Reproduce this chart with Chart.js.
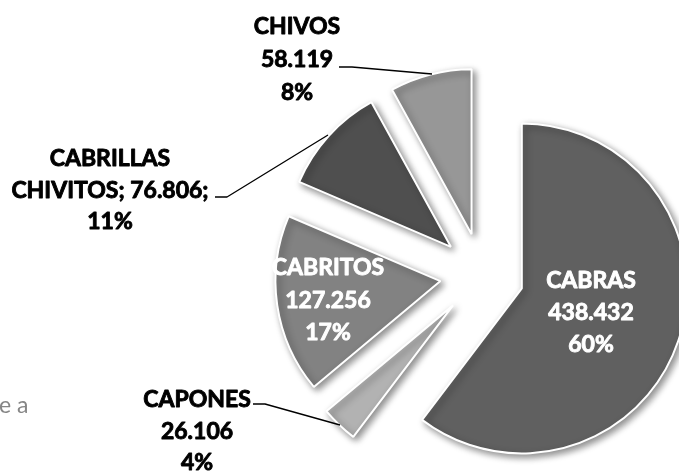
<!DOCTYPE html>
<html>
<head>
<meta charset="utf-8">
<script src="https://cdn.jsdelivr.net/npm/chart.js@4"></script>
<style>
    body { margin: 0; background: #ffffff; }
    #pie { display: block; }
</style>
</head>
<body>
<canvas id="pie" width="679" height="471"></canvas>
<script>
const categorias = ["CABRAS", "CAPONES", "CABRITOS", "CABRILLAS CHIVITOS", "CHIVOS"];
const cabezas = [438432, 26106, 127256, 76806, 58119];
const valoresTexto = ["438.432", "26.106", "127.256", "76.806", "58.119"];
const porcentajes = ["60%", "4%", "17%", "11%", "8%"];
const colores = ["#606060", "#b2b2b2", "#828282", "#4f4f4f", "#979797"];

// label layout: text lines per slice, centre x, baselines, colour, leader line
const etiquetas = [
    { lines: [0, "v", "p"], x: 591, y: [288, 320, 352], color: "#ffffff" },
    { lines: [0, "v", "p"], x: 197, y: [407, 439, 470], color: "#000000",
      leader: [[253, 404], [265, 404], [340, 425]] },
    { lines: [0, "v", "p"], x: 328, y: [275, 308, 340], color: "#ffffff" },
    { lines: ["CABRILLAS", "CHIVITOS; {v};", "p"], x: 110, y: [166, 198, 229], color: "#000000",
      leader: [[215, 197], [227, 197], [328, 135]] },
    { lines: [0, "v", "p"], x: 297, y: [34, 67, 100], color: "#000000",
      leader: [[339, 67], [352, 67], [432, 74]] }
];

const EXPLODE = 42;
const FONT = "'Lato', 'Open Sans', sans-serif";

const explodePlugin = {
    id: "explode",
    afterDatasetsUpdate(chart) {
        chart.getDatasetMeta(0).data.forEach(arc => {
            const mid = (arc.startAngle + arc.endAngle) / 2;
            arc.x += Math.cos(mid) * EXPLODE;
            arc.y += Math.sin(mid) * EXPLODE;
        });
    }
};

const shadowPlugin = {
    id: "shadow",
    beforeDatasetsDraw(chart) {
        const ctx = chart.ctx;
        ctx.save();
        ctx.shadowColor = "rgba(0, 0, 0, 0.45)";
        ctx.shadowBlur = 7;
        ctx.shadowOffsetX = 3;
        ctx.shadowOffsetY = 3;
    },
    afterDatasetsDraw(chart) {
        chart.ctx.restore();
    }
};

const labelPlugin = {
    id: "labels",
    afterDraw(chart) {
        const ctx = chart.ctx;
        ctx.save();
        etiquetas.forEach((et, i) => {
            if (et.leader) {
                ctx.beginPath();
                ctx.moveTo(et.leader[0][0], et.leader[0][1]);
                et.leader.slice(1).forEach(p => ctx.lineTo(p[0], p[1]));
                ctx.strokeStyle = "#000000";
                ctx.lineWidth = 1.3;
                ctx.stroke();
            }
            ctx.font = "bold 23px " + FONT;
            ctx.fillStyle = et.color;
            ctx.strokeStyle = et.color;
            ctx.lineWidth = 0.9;
            ctx.lineJoin = "round";
            ctx.textAlign = "center";
            ctx.textBaseline = "alphabetic";
            et.lines.forEach((line, k) => {
                let text = line;
                if (line === 0) text = categorias[i];
                else if (line === "v") text = valoresTexto[i];
                else if (line === "p") text = porcentajes[i];
                else text = line.replace("{v}", valoresTexto[i]);
                ctx.fillText(text, et.x, et.y[k]);
                ctx.strokeText(text, et.x, et.y[k]);
            });
        });
        // fragment of text cut at the left border
        ctx.font = "23px " + FONT;
        ctx.fillStyle = "#868686";
        ctx.textAlign = "left";
        ctx.fillText("e a", -1, 413);
        ctx.restore();
    }
};

function dibujarPie() {
    new Chart(document.getElementById("pie"), {
        type: "pie",
        data: {
            labels: categorias,
            datasets: [{
                data: cabezas,
                backgroundColor: colores,
                borderColor: "#ffffff",
                borderWidth: 2,
                clip: false
            }]
        },
        options: {
            responsive: false,
            animation: false,
            devicePixelRatio: 1,
            events: [],
            radius: 165,
            layout: {
                padding: { left: 285, right: 0, top: 79, bottom: 0 }
            },
            plugins: {
                legend: { display: false },
                tooltip: { enabled: false }
            }
        },
        plugins: [explodePlugin, shadowPlugin, labelPlugin]
    });
}

window.onload = () => {
    dibujarPie();
};
</script>
</body>
</html>
